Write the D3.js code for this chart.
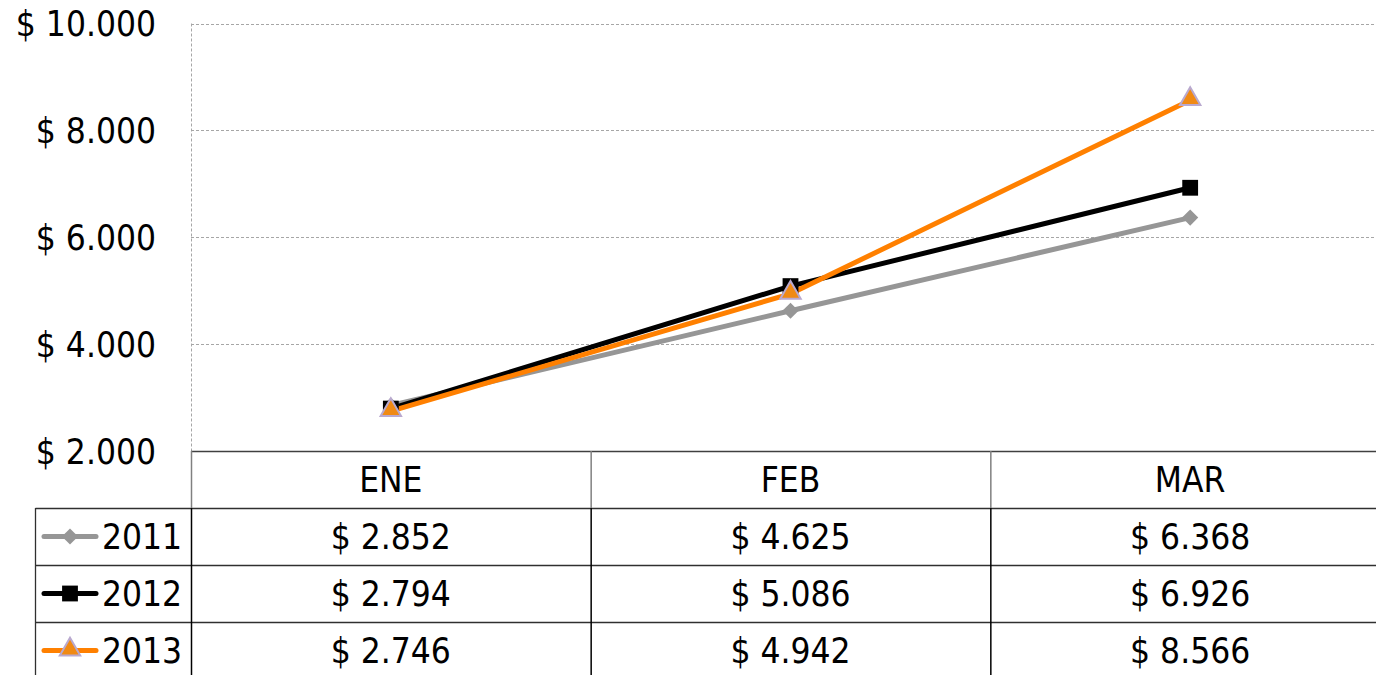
<!DOCTYPE html>
<html>
<head>
<meta charset="utf-8">
<script src="https://cdn.jsdelivr.net/npm/d3@7"></script>
<style>
  body { margin: 0; background: #fff; overflow: hidden; }
  svg text { font-family: "DejaVu Sans Condensed", "DejaVu Sans", sans-serif; fill: #000; }
</style>
</head>
<body>
<div id="container"></div>
<script>
// chart data
var months = ["ENE", "FEB", "MAR"];
var years = ["2011", "2012", "2013"];
var values2011 = [2852, 4625, 6368];
var values2012 = [2794, 5086, 6926];
var values2013 = [2746, 4942, 8566];
var yTicks = [2000, 4000, 6000, 8000, 10000];

var seriesValues = [values2011, values2012, values2013];
var colors = ["#969696", "#000000", "#ff8000"];

var width = 1376, height = 675;
var plotLeft = 191, plotRight = 1390, plotTop = 23.5, plotBottom = 451;
var rowH = 57;
var fontSize = "35px";

var svg = d3.select("#container").append("svg")
  .attr("width", width)
  .attr("height", height);

var x = d3.scaleBand().domain(months).range([plotLeft, plotRight]);
var y = d3.scaleLinear().domain([2000, 10000]).range([plotBottom, plotTop]);

// number format like "$ 2.852"
var fmt = function(v) { return "$ " + d3.format(",")(v).replace(/,/g, "."); };

// gridlines
svg.append("g")
  .selectAll("line")
  .data(yTicks.filter(function(d) { return d > 2000; }))
  .enter().append("line")
  .attr("x1", plotLeft).attr("x2", width)
  .attr("y1", function(d) { return Math.round(y(d)) + 0.5; })
  .attr("y2", function(d) { return Math.round(y(d)) + 0.5; })
  .attr("stroke", "#a6a6a6")
  .attr("stroke-dasharray", "3,2");

svg.append("line")
  .attr("x1", plotLeft + 0.5).attr("x2", plotLeft + 0.5)
  .attr("y1", y(10000)).attr("y2", plotBottom)
  .attr("stroke", "#a6a6a6")
  .attr("stroke-dasharray", "3,2");

// y labels
svg.append("g")
  .selectAll("text")
  .data(yTicks)
  .enter().append("text")
  .attr("x", 156)
  .attr("y", function(d) { return y(d); })
  .attr("dy", "0.36em")
  .attr("text-anchor", "end")
  .style("font-size", fontSize)
  .text(fmt);

// lines and markers
var line = d3.line()
  .x(function(d, i) { return x(months[i]) + x.bandwidth() / 2; })
  .y(function(d) { return y(d); });

seriesValues.forEach(function(vals, s) {
  svg.append("path")
    .datum(vals)
    .attr("d", line)
    .attr("fill", "none")
    .attr("stroke", colors[s])
    .attr("stroke-width", 5)
    .attr("stroke-linejoin", "round");
});

function drawMarker(g, s, cx, cy) {
  if (s === 0) {
    // diamond = square turned 45deg
    g.append("path")
      .attr("d", d3.symbol().type(d3.symbolSquare).size(130)())
      .attr("transform", "translate(" + cx + "," + cy + ") rotate(45)")
      .attr("fill", "#969696");
  } else if (s === 1) {
    g.append("path")
      .attr("d", d3.symbol().type(d3.symbolSquare).size(250)())
      .attr("transform", "translate(" + cx + "," + cy + ")")
      .attr("fill", "#000");
  } else {
    g.append("path")
      .attr("d", d3.symbol().type(d3.symbolTriangle).size(180)())
      .attr("transform", "translate(" + cx + "," + (cy - 1) + ")")
      .attr("fill", "#f08a14")
      .attr("stroke", "#b9a9cf")
      .attr("stroke-width", 2);
  }
}

seriesValues.forEach(function(vals, s) {
  var g = svg.append("g");
  vals.forEach(function(v, i) {
    drawMarker(g, s, x(months[i]) + x.bandwidth() / 2, y(v));
  });
});

// data table
var table = svg.append("g");
var tableLeft = 35.5;

// horizontal rules
[0, 1, 2, 3].forEach(function(r) {
  table.append("line")
    .attr("x1", r === 0 ? plotLeft : tableLeft).attr("x2", width)
    .attr("y1", plotBottom + 0.5 + r * rowH).attr("y2", plotBottom + 0.5 + r * rowH)
    .attr("stroke", r === 0 ? "#404040" : "#303030")
    .attr("stroke-width", 1.3);
});
// vertical rules
table.append("line")
  .attr("x1", tableLeft).attr("x2", tableLeft)
  .attr("y1", plotBottom + rowH).attr("y2", height)
  .attr("stroke", "#303030").attr("stroke-width", 1.3);
months.forEach(function(m) {
  table.append("line")
    .attr("x1", x(m) + 0.5).attr("x2", x(m) + 0.5)
    .attr("y1", plotBottom).attr("y2", plotBottom + rowH)
    .attr("stroke", "#808080").attr("stroke-width", 1.5);
  table.append("line")
    .attr("x1", x(m) + 0.5).attr("x2", x(m) + 0.5)
    .attr("y1", plotBottom + rowH).attr("y2", height)
    .attr("stroke", "#000").attr("stroke-width", 1.5);
});

// header
table.selectAll("text.month")
  .data(months)
  .enter().append("text")
  .attr("class", "month")
  .attr("x", function(d) { return x(d) + x.bandwidth() / 2; })
  .attr("y", plotBottom + rowH / 2)
  .attr("dy", "0.36em")
  .attr("text-anchor", "middle")
  .style("font-size", fontSize)
  .text(function(d) { return d; });

// rows
seriesValues.forEach(function(vals, s) {
  var cy = plotBottom + rowH * (s + 1) + rowH / 2;
  var row = table.append("g");
  row.selectAll("text")
    .data(vals)
    .enter().append("text")
    .attr("x", function(d, i) { return x(months[i]) + x.bandwidth() / 2; })
    .attr("y", cy)
    .attr("dy", "0.36em")
    .attr("text-anchor", "middle")
    .style("font-size", fontSize)
    .text(fmt);

  // legend key
  row.append("line")
    .attr("x1", 44).attr("x2", 96)
    .attr("y1", cy).attr("y2", cy)
    .attr("stroke", colors[s])
    .attr("stroke-width", 5)
    .attr("stroke-linecap", "round");
  drawMarker(row, s, 70, cy);
  row.append("text")
    .attr("x", 182)
    .attr("y", cy)
    .attr("dy", "0.36em")
    .attr("text-anchor", "end")
    .style("font-size", fontSize)
    .text(years[s]);
});
</script>
</body>
</html>
